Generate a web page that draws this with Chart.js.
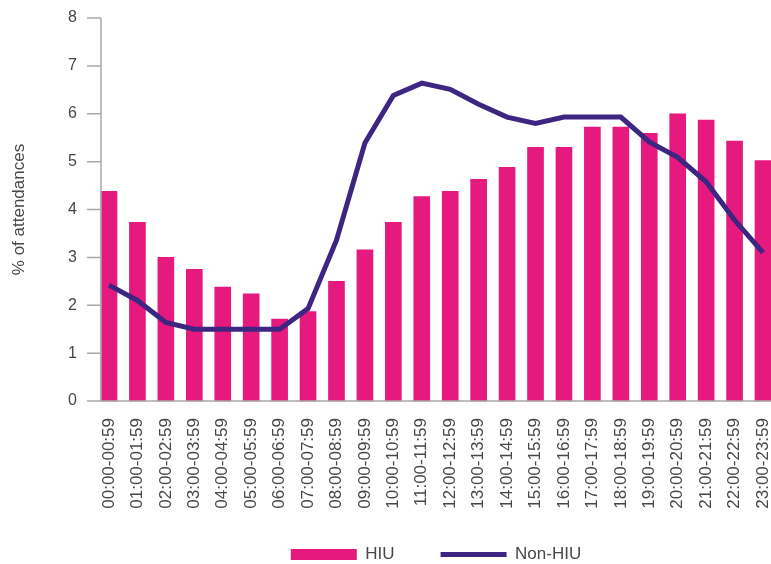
<!DOCTYPE html>
<html>
<head>
<meta charset="utf-8">
<script src="https://cdn.jsdelivr.net/npm/chart.js@4"></script>
<style>
  html, body { margin: 0; padding: 0; background: #fff; }
  #wrap { width: 771px; height: 564px; }
</style>
</head>
<body>
<div id="wrap"><canvas id="grafico"></canvas></div>
<script>
const horas = [
  "00:00-00:59", "01:00-01:59", "02:00-02:59", "03:00-03:59", "04:00-04:59", "05:00-05:59",
  "06:00-06:59", "07:00-07:59", "08:00-08:59", "09:00-09:59", "10:00-10:59", "11:00-11:59",
  "12:00-12:59", "13:00-13:59", "14:00-14:59", "15:00-15:59", "16:00-16:59", "17:00-17:59",
  "18:00-18:59", "19:00-19:59", "20:00-20:59", "21:00-21:59", "22:00-22:59", "23:00-23:59"
];
const hiu = [4.38, 3.73, 3.0, 2.75, 2.38, 2.24, 1.71, 1.87, 2.5, 3.16, 3.73, 4.27,
  4.38, 4.63, 4.88, 5.3, 5.3, 5.72, 5.72, 5.59, 6.0, 5.87, 5.43, 5.02];
const naoHiu = [2.42, 2.1, 1.64, 1.5, 1.5, 1.5, 1.5, 1.93, 3.36, 5.39, 6.38, 6.64,
  6.51, 6.2, 5.93, 5.8, 5.93, 5.93, 5.93, 5.41, 5.09, 4.58, 3.78, 3.1];
const ticksY = [0, 1, 2, 3, 4, 5, 6, 7, 8];

const rosa = "#e6197f";
const roxo = "#3d2582";
const cinza = "#474747";
const fonte = "'Liberation Sans', Arial, sans-serif";
const larguraBarra = 16;

// eixos desenhados a mao: a linha do eixo y fica meia barra a esquerda do primeiro centro
const eixos = {
  id: "eixos",
  afterDatasetsDraw(chart) {
    const { ctx, chartArea, scales } = chart;
    const x0 = scales.x.getPixelForValue(0) - larguraBarra / 2;
    const topo = scales.y.getPixelForValue(ticksY[ticksY.length - 1]);
    ctx.save();
    ctx.strokeStyle = "#a8a8a8";
    ctx.lineWidth = 1.5;
    ctx.beginPath();
    ctx.moveTo(x0, topo);
    ctx.lineTo(x0, chartArea.bottom);
    ctx.lineTo(chart.width, chartArea.bottom);
    scales.y.ticks.forEach((t) => {
      const y = scales.y.getPixelForValue(t.value);
      ctx.moveTo(x0 - 14, y);
      ctx.lineTo(x0, y);
    });
    ctx.stroke();
    ctx.restore();
  },
};

const grafico = document.getElementById("grafico").getContext("2d");
const meuGrafico = new Chart(grafico, {
  data: {
    labels: horas,
    datasets: [
      {
        type: "bar",
        label: "HIU",
        data: hiu,
        backgroundColor: rosa,
        borderWidth: 0,
        barThickness: larguraBarra,
        clip: false,
        order: 2,
      },
      {
        type: "line",
        label: "Non-HIU",
        data: naoHiu,
        borderColor: roxo,
        backgroundColor: roxo,
        borderWidth: 5,
        pointRadius: 0,
        tension: 0,
        clip: false,
        order: 1,
      },
    ],
  },
  options: {
    responsive: true,
    maintainAspectRatio: false,
    animation: false,
    layout: { padding: { top: 18, right: 8, left: 0, bottom: 0 } },
    plugins: {
      tooltip: { enabled: false },
      legend: {
        position: "bottom",
        fullSize: false,
        maxHeight: 64,
        labels: {
          usePointStyle: true,
          pointStyleWidth: 66,
          boxHeight: 11,
          padding: 46,
          color: cinza,
          font: { family: fonte, size: 17 },
          generateLabels(chart) {
            const itens = Chart.defaults.plugins.legend.labels.generateLabels(chart);
            itens.sort((a, b) => a.datasetIndex - b.datasetIndex);
            itens.forEach((it) => {
              if (it.datasetIndex === 0) {
                it.pointStyle = "rect";
                it.fillStyle = rosa;
                it.lineWidth = 0;
              } else {
                it.pointStyle = "line";
                it.strokeStyle = roxo;
                it.lineWidth = 5;
              }
            });
            return itens;
          },
        },
      },
    },
    scales: {
      x: {
        offset: false,
        grid: { display: false, drawTicks: false },
        border: { display: false },
        ticks: {
          autoSkip: false,
          minRotation: 90,
          maxRotation: 90,
          padding: 17,
          color: cinza,
          font: { family: fonte, size: 17 },
        },
        afterFit(scale) {
          scale.height = 99;
          scale.paddingLeft = 0;
          scale.paddingRight = 0;
          // os rotulos passam da altura fixa da escala, entao sem recorte
          scale._computeLabelArea = () => undefined;
        },
      },
      y: {
        min: ticksY[0],
        max: ticksY[ticksY.length - 1],
        grid: { display: false, drawTicks: false },
        border: { display: false },
        afterBuildTicks(axis) {
          axis.ticks = ticksY.map((v) => ({ value: v }));
        },
        ticks: {
          padding: 32,
          color: cinza,
          font: { family: fonte, size: 16 },
        },
        title: {
          display: true,
          text: "% of attendances",
          color: cinza,
          padding: { top: 9, bottom: 0 },
          font: { family: fonte, size: 17 },
        },
        afterFit(scale) {
          scale.width = 109;
          scale.paddingTop = 0;
          scale.paddingBottom = 0;
        },
      },
    },
  },
  plugins: [eixos],
});
</script>
</body>
</html>
